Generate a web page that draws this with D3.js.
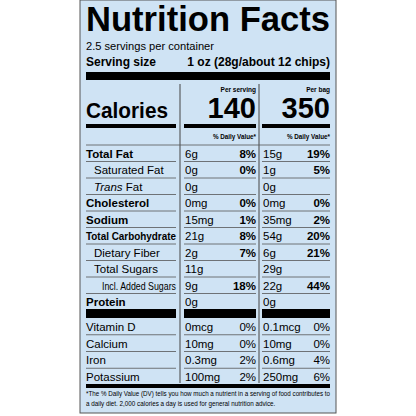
<!DOCTYPE html>
<html><head><meta charset="UTF-8">
<script src="https://d3js.org/d3.v7.min.js"></script>
<style>body{margin:0;background:#fff}text{font-family:"Liberation Sans",Arial,sans-serif;fill:#000}</style>
</head><body><script>
const nutrients = ["Total Fat","Saturated Fat","Trans Fat","Cholesterol","Sodium","Total Carbohydrate","Dietary Fiber","Total Sugars","Incl. Added Sugars","Protein"];
const indent = [0,1,1,0,0,0,1,1,2,0];
const boldName = [1,0,0,1,1,1,0,0,0,1];
const servAmt = ["6g","0g","0g","0mg","15mg","21g","2g","11g","9g","0g"];
const servDV = ["8%","0%","","0%","1%","8%","7%","","18%",""];
const bagAmt = ["15g","1g","0g","0mg","35mg","54g","6g","29g","22g","0g"];
const bagDV = ["19%","5%","","0%","2%","20%","21%","","44%",""];
const vitamins = ["Vitamin D","Calcium","Iron","Potassium"];
const vServAmt = ["0mcg","10mg","0.3mg","100mg"];
const vServDV = ["0%","0%","2%","2%"];
const vBagAmt = ["0.1mcg","10mg","0.6mg","250mg"];
const vBagDV = ["0%","0%","4%","6%"];
const calories = [140, 350];
const colHeads = ["Per serving","Per bag"];

const svg = d3.select("body").append("svg").attr("width",416).attr("height",416);
const L=80,R=336;
svg.append("rect").attr("x",L).attr("y",0).attr("width",R-L).attr("height",413).attr("fill","#cfe3f4").attr("stroke","#555").attr("stroke-width",1);
const c0=[86,176], c1=[184,256], c2=[262,330];
const t=(x,y,s,txt,opt={})=>svg.append("text").attr("x",x).attr("y",y).attr("font-size",s)
  .attr("font-weight",opt.b?"bold":"normal").attr("font-style",opt.i?"italic":"normal")
  .attr("text-anchor",opt.a||"start").text(txt);
const fit=(s,w)=>{ if(s.node().getComputedTextLength()>w) s.attr("textLength",w).attr("lengthAdjust","spacingAndGlyphs"); return s; };
const bar=(x1,x2,y,h)=>svg.append("rect").attr("x",x1).attr("y",y).attr("width",x2-x1).attr("height",h).attr("fill","#000");
const line=(x1,x2,y)=>svg.append("line").attr("x1",x1).attr("x2",x2).attr("y1",y).attr("y2",y).attr("stroke","#555").attr("stroke-width",0.8);

t(86,31,35,"Nutrition Facts",{b:1}).attr("textLength",244).attr("lengthAdjust","spacingAndGlyphs");
fit(t(86,50,11.5,"2.5 servings per container"),128);
fit(t(86,66,12,"Serving size",{b:1}),70);
fit(t(330,66,12,"1 oz (28g/about 12 chips)",{b:1,a:"end"}),155);
bar(86,330,72,8);
svg.append("line").attr("x1",180).attr("x2",180).attr("y1",84).attr("y2",383).attr("stroke","#444");
svg.append("line").attr("x1",259).attr("x2",259).attr("y1",84).attr("y2",383).attr("stroke","#444");
fit(t(86,118,22,"Calories",{b:1}),82);
[c1,c2].forEach((c,i)=>{
  t(c[1],92,6.5,colHeads[i],{b:1,a:"end"});
  t(c[1],118,29,calories[i],{b:1,a:"end"});
  t(c[1],139,6.3,"% Daily Value*",{b:1,a:"end"});
});
[c0,c1,c2].forEach(c=>bar(c[0],c[1],124,4));
line(86,330,145);

const y = d3.scaleBand().domain(nutrients).range([145,310]);
nutrients.forEach((n,i)=>{
  const yb=y(n)+y.bandwidth()/2+4.5;
  const s=t(86+indent[i]*8,yb,11.5,n,{b:boldName[i]});
  if(n==="Trans Fat"){s.text(null);s.append("tspan").attr("font-style","italic").text("Trans");s.append("tspan").text(" Fat");}
  fit(s,176-(86+indent[i]*8));
  t(c1[0]+1,yb,11.5,servAmt[i]); t(c1[1],yb,11.5,servDV[i],{b:1,a:"end"});
  t(c2[0]+1,yb,11.5,bagAmt[i]); t(c2[1],yb,11.5,bagDV[i],{b:1,a:"end"});
  if(i<nutrients.length-1) [c0,c1,c2].forEach(c=>line(c[0],c[1],y(n)+y.bandwidth()));
});
[c0,c1,c2].forEach(c=>bar(c[0],c[1],309,9));
const yv = d3.scaleBand().domain(vitamins).range([318,385]);
vitamins.forEach((n,i)=>{
  const yb=yv(n)+yv.bandwidth()/2+4.5;
  t(86,yb,11.5,n);
  t(c1[0]+1,yb,11.5,vServAmt[i]); t(c1[1],yb,11.5,vServDV[i],{a:"end"});
  t(c2[0]+1,yb,11.5,vBagAmt[i]); t(c2[1],yb,11.5,vBagDV[i],{a:"end"});
  if(i<vitamins.length-1) [c0,c1,c2].forEach(c=>line(c[0],c[1],yv(n)+yv.bandwidth()));
});
bar(86,330,384,4);
t(86,396,6.3,"*The % Daily Value (DV) tells you how much a nutrient in a serving of food contributes to").attr("textLength",244).attr("lengthAdjust","spacingAndGlyphs");
t(86,406,6.3,"a daily diet. 2,000 calories a day is used for general nutrition advice.");
</script></body></html>
